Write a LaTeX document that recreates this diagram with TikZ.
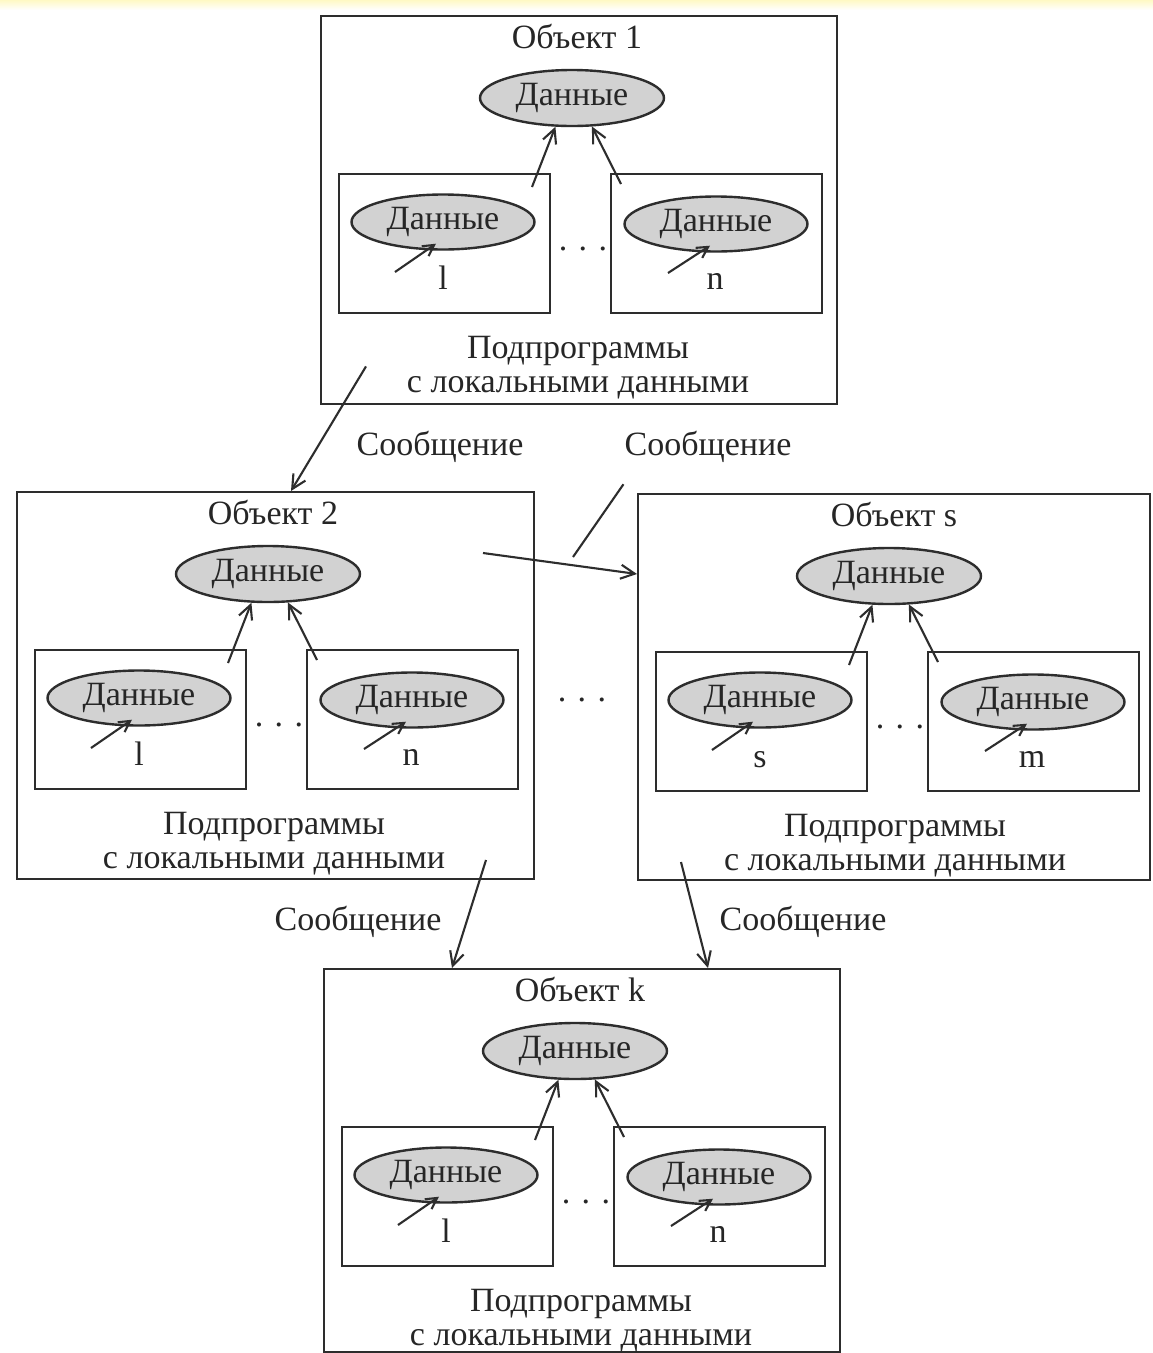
\documentclass[tikz,border=0pt]{standalone}
\usepackage{fontspec}
\setmainfont{Liberation Serif}
\usetikzlibrary{arrows.meta,shapes.geometric,calc}
\definecolor{lc}{RGB}{45,45,45}
\definecolor{tc}{RGB}{38,38,38}
\definecolor{fc}{RGB}{210,210,210}
\definecolor{yb}{RGB}{255,249,196}
\tikzset{
  txt/.style={text=tc, font=\fontsize{34pt}{40pt}\selectfont, inner sep=0pt},
  obox/.style={draw=lc, line width=2.4pt, inner sep=0pt},
  ibox/.style={draw=lc, line width=2.4pt, minimum width=211pt, minimum height=139pt, inner sep=0pt},
  dat/.style={ellipse, draw=lc, line width=2.4pt, fill=fc, text=tc, font=\fontsize{34pt}{40pt}\selectfont, minimum width=184pt, minimum height=56pt, inner sep=0pt},
  arr/.style={draw=lc, line width=2.1pt, -{Straight Barb[length=14pt,width=14pt]}},
  sarr/.style={draw=lc, line width=2.1pt, -{Straight Barb[length=11pt,width=12pt]}},
  ln/.style={draw=lc, line width=2.1pt}
}
\newcommand\objblk[8]{%
\begin{scope}[shift={(#2,#3)}]
\node[obox, minimum width=#8pt, minimum height=#7pt, anchor=north west] (#1) at (0,0) {};
\node[txt, anchor=base] (#1t) at (257,33) {#4};
\node[dat] (#1d) at (252,83) {Данные};
\node[ibox, anchor=north west] (#1a) at (18,158) {};
\node[dat, minimum width=183pt, minimum height=55pt] (#1ad) at (123,207) {Данные};
\node[txt, anchor=base] (#1al) at (123,274) {#5};
\coordinate (#1as) at (75,257);
\draw[sarr] (#1as) -- ($(#1ad.south)+(-7,-7)$);
\node[txt] (#1dots) at (263,234) {.\,\,.\,\,.};
\node[ibox, anchor=north west] (#1b) at (290,158) {};
\node[dat, minimum width=183pt, minimum height=55pt] (#1bd) at (396,209) {Данные};
\node[txt, anchor=base] (#1bl) at (395,274) {#6};
\coordinate (#1bs) at (348,258);
\draw[sarr] (#1bs) -- ($(#1bd.south)+(-6,-7)$);
\coordinate (#1s1) at (212,172);
\coordinate (#1s2) at (301,169);
\draw[arr] (#1s1) -- (#1d.240);
\draw[arr] (#1s2) -- (#1d.305);
\node[txt, anchor=base] (#1p1) at (258,343) {Подпрограммы};
\node[txt, anchor=base] (#1p2) at (258,377) {с локальными данными};
\end{scope}}
\begin{document}
\begin{tikzpicture}[x=1pt,y=-1pt]
\useasboundingbox (0,0) rectangle (1153,1353);
\fill[white] (0,0) rectangle (1153,1353);
\shade[top color=yb, bottom color=white] (0,0) rectangle (1153,10);
\objblk{oa}{320}{15}{Объект 1}{l}{n}{388}{516}
\objblk{ob}{16}{491}{Объект 2}{l}{n}{387}{517}
\objblk{os}{637}{493}{Объект s}{s}{m}{386}{512}
\objblk{ok}{323}{968}{Объект k}{l}{n}{383}{516}
% dots between objects 2 and s
\node[txt] (mdots) at (582,700) {.\,\,.\,\,.};
% message labels
\node[txt, anchor=base] (msg1) at (440,455) {Сообщение};
\node[txt, anchor=base] (msg2) at (708,455) {Сообщение};
\node[txt, anchor=base] (msg3) at (358,930) {Сообщение};
\node[txt, anchor=base] (msg4) at (803,930) {Сообщение};
% messages
\coordinate (m1s) at ($(oa.south west)+(46,-39)$);
\coordinate (m1e) at ($(ob.north west)+(275,0)$);
\draw[arr] (m1s) -- (m1e);
\coordinate (m2s) at ($(ob.north west)+(467,62)$);
\coordinate (m2e) at ($(os.north west)+(0,81)$);
\draw[arr] (m2s) -- (m2e);
\coordinate (l2s) at ($(msg2.south west)+(-1,22)$);
\coordinate (l2e) at (573,557);
\draw[ln] (l2s) -- (l2e);
\coordinate (m3s) at ($(ob.north west)+(470,369)$);
\coordinate (m3e) at ($(ok.north west)+(129,0)$);
\draw[arr] (m3s) -- (m3e);
\coordinate (m4s) at ($(os.north west)+(44,369)$);
\coordinate (m4e) at ($(ok.north west)+(385,0)$);
\draw[arr] (m4s) -- (m4e);
\end{tikzpicture}
\end{document}
